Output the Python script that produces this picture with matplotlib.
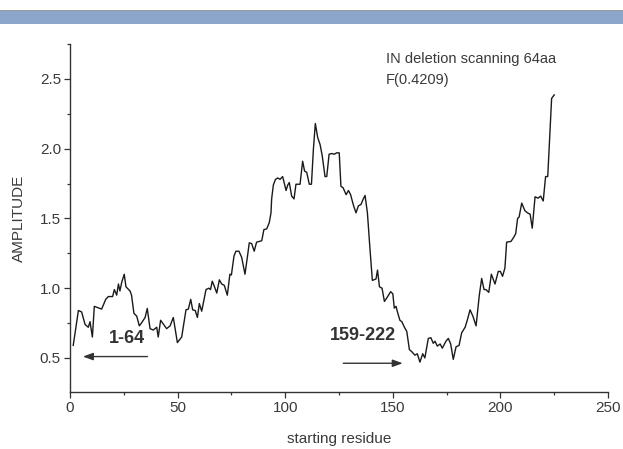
import matplotlib
matplotlib.use("Agg")
import matplotlib.pyplot as plt
from matplotlib.patches import Rectangle
from matplotlib.ticker import MultipleLocator

plt.rcParams["font.family"] = ["Liberation Sans", "DejaVu Sans"]

# Deletion-scan amplitude profile (starting residue vs amplitude)
residue = [
    1.5, 3.9, 5.4, 7.0, 8.5, 9.3, 10.4, 11.3, 13.0, 14.7, 16.6, 17.8, 19.8, 20.6,
    21.7, 22.5, 23.2, 24.0, 25.2, 26.0, 27.9, 28.6, 29.7, 31.0, 32.2, 33.2, 34.9,
    35.9, 37.2, 38.7, 40.3, 41.0, 42.1, 44.9, 46.5, 48.0, 49.9, 51.9, 53.9, 55.0,
    56.1, 57.0, 58.2, 59.2, 60.1, 61.2, 63.2, 64.5, 65.3, 66.1, 66.9, 68.2, 69.4,
    70.5, 71.7, 73.1, 74.3, 75.0, 76.2, 77.1, 78.5, 79.8, 81.3, 82.4, 83.3, 84.4,
    85.6, 86.7, 89.1, 90.1, 91.4, 92.6, 93.4, 93.7, 94.5, 95.5, 96.5, 97.6, 98.8,
    99.3, 100.4, 101.2, 101.9, 103.0, 104.1, 105.0, 106.9, 108.1, 109.0, 110.0,
    111.2, 112.2, 113.1, 114.0, 115.1, 116.2, 117.2, 118.5, 119.3, 120.4, 121.6,
    122.8, 123.9, 125.1, 125.9, 126.9, 128.3, 129.4, 130.4, 131.6, 132.9, 134.0,
    135.2, 136.3, 137.1, 138.2, 139.4, 140.5, 142.2, 142.9, 143.8, 145.0, 146.1,
    147.2, 149.0, 150.0, 150.7, 151.5, 152.1, 153.3, 154.2, 155.4, 156.5, 157.7,
    158.8, 160.3, 161.4, 162.6, 163.9, 164.9, 166.5, 167.7, 168.8, 169.6, 170.7,
    172.0, 173.0, 174.7, 175.8, 176.9, 178.1, 179.4, 180.8, 182.0, 183.6, 184.6,
    185.9, 187.2, 188.7, 190.2, 191.3, 192.4, 193.3, 194.6, 195.8, 197.5, 199.0,
    200.0, 201.0, 202.1, 202.9, 204.9, 206.0, 207.1, 208.0, 208.7, 209.9, 211.4,
    212.6, 213.8, 214.8, 216.1, 217.5, 218.7, 219.9, 221.0, 222.0, 223.8, 225.0,
]
amplitude = [
    0.59, 0.84, 0.83, 0.74, 0.72, 0.76, 0.65, 0.87, 0.86, 0.85, 0.92, 0.94, 0.94, 0.99,
    0.95, 1.03, 0.98, 1.04, 1.10, 1.01, 0.98, 0.95, 0.82, 0.80, 0.73, 0.75, 0.79,
    0.855, 0.71, 0.70, 0.72, 0.65, 0.77, 0.71, 0.73, 0.79, 0.61, 0.65, 0.845, 0.85,
    0.92, 0.845, 0.84, 0.79, 0.89, 0.835, 0.99, 1.00, 0.99, 1.05, 1.02, 0.965, 1.06,
    1.03, 1.02, 0.95, 1.10, 1.095, 1.23, 1.265, 1.265, 1.22, 1.10, 1.22, 1.325, 1.32,
    1.265, 1.33, 1.34, 1.42, 1.425, 1.47, 1.54, 1.64, 1.74, 1.78, 1.79, 1.78, 1.80,
    1.77, 1.70, 1.74, 1.757, 1.66, 1.64, 1.745, 1.745, 1.91, 1.84, 1.83,
    1.745, 1.745, 1.995, 2.18, 2.08, 2.03, 1.95, 1.80, 1.80, 1.96, 1.965,
    1.96, 1.97, 1.97, 1.73, 1.72, 1.67, 1.70, 1.67, 1.60, 1.54, 1.59,
    1.60, 1.64, 1.665, 1.54, 1.28, 1.056, 1.066, 1.13, 1.01, 1.00, 0.905,
    0.93, 0.975, 0.96, 0.857, 0.87, 0.833, 0.77, 0.76, 0.72, 0.69, 0.56,
    0.545, 0.52, 0.53, 0.47, 0.53, 0.50, 0.64, 0.645, 0.605, 0.62, 0.585,
    0.60, 0.57, 0.62, 0.64, 0.60, 0.49, 0.58, 0.59, 0.68, 0.72, 0.77,
    0.845, 0.80, 0.73, 0.95, 1.07, 0.99, 0.99, 0.97, 1.10, 1.03, 1.12,
    1.12, 1.085, 1.145, 1.33, 1.335, 1.36, 1.39, 1.50, 1.51, 1.61, 1.555,
    1.54, 1.53, 1.43, 1.655, 1.645, 1.66, 1.625, 1.80, 1.80, 2.36, 2.385,
]

x_ticks = [0, 50, 100, 150, 200, 250]
y_ticks = [0.5, 1.0, 1.5, 2.0, 2.5]

W, H = 623, 449
fig = plt.figure(figsize=(W / 100, H / 100), dpi=100)

# header band
fig.patches.append(Rectangle((0, 1 - 10.5 / H), 1, 0.6 / H, transform=fig.transFigure,
                             facecolor="#9a9a9a", edgecolor="none"))
fig.patches.append(Rectangle((0, 1 - 23.5 / H), 1, 12.5 / H, transform=fig.transFigure,
                             facecolor="#8ca5cb", edgecolor="none"))

ax = fig.add_axes([70 / W, 1 - 392 / H, 538 / W, 348 / H])
ax.plot(residue, amplitude, color="#1a1a1a", lw=1.0)

ax.set_xlim(0, 250)
ax.set_ylim(0.256, 2.75)
ax.set_xticks(x_ticks)
ax.set_yticks(y_ticks)
ax.set_yticklabels([f"{v:.1f}" for v in y_ticks])
ax.xaxis.set_minor_locator(MultipleLocator(25))
ax.yaxis.set_minor_locator(MultipleLocator(0.25))

for s in ("top", "right"):
    ax.spines[s].set_visible(False)
for s in ("left", "bottom"):
    ax.spines[s].set_color("#333333")
    ax.spines[s].set_linewidth(1.0)

tc = "#3a3a3a"
ax.tick_params(which="major", direction="out", length=4.5, width=0.9, colors="#333333",
               labelcolor=tc, labelsize=11, pad=2)
ax.tick_params(which="minor", direction="out", length=2.5, width=0.9, colors="#333333")

ax.set_xlabel("starting residue", fontsize=11, color=tc, labelpad=12)
ax.set_ylabel("AMPLITUDE", fontsize=11, color=tc, labelpad=10)

ax.text(146.8, 2.615, "IN deletion scanning 64aa", fontsize=10.5, color=tc, va="baseline")
ax.text(146.8, 2.465, "F(0.4209)", fontsize=10.5, color=tc, va="baseline")

ax.text(26.3, 0.64, "1-64", fontsize=13, fontweight="bold", color="#333333",
        ha="center", va="center")
ax.annotate("", xy=(6.0, 0.51), xytext=(36.0, 0.51),
            arrowprops=dict(arrowstyle="-|>,head_length=0.6,head_width=0.22",
                            color="#333333", lw=1.0, shrinkA=0, shrinkB=0))

ax.text(136.2, 0.658, "159-222", fontsize=13, fontweight="bold", color="#333333",
        ha="center", va="center")
ax.annotate("", xy=(154.6, 0.462), xytext=(127.0, 0.462),
            arrowprops=dict(arrowstyle="-|>,head_length=0.6,head_width=0.22",
                            color="#333333", lw=1.0, shrinkA=0, shrinkB=0))

fig.savefig("out.png", dpi=100)
